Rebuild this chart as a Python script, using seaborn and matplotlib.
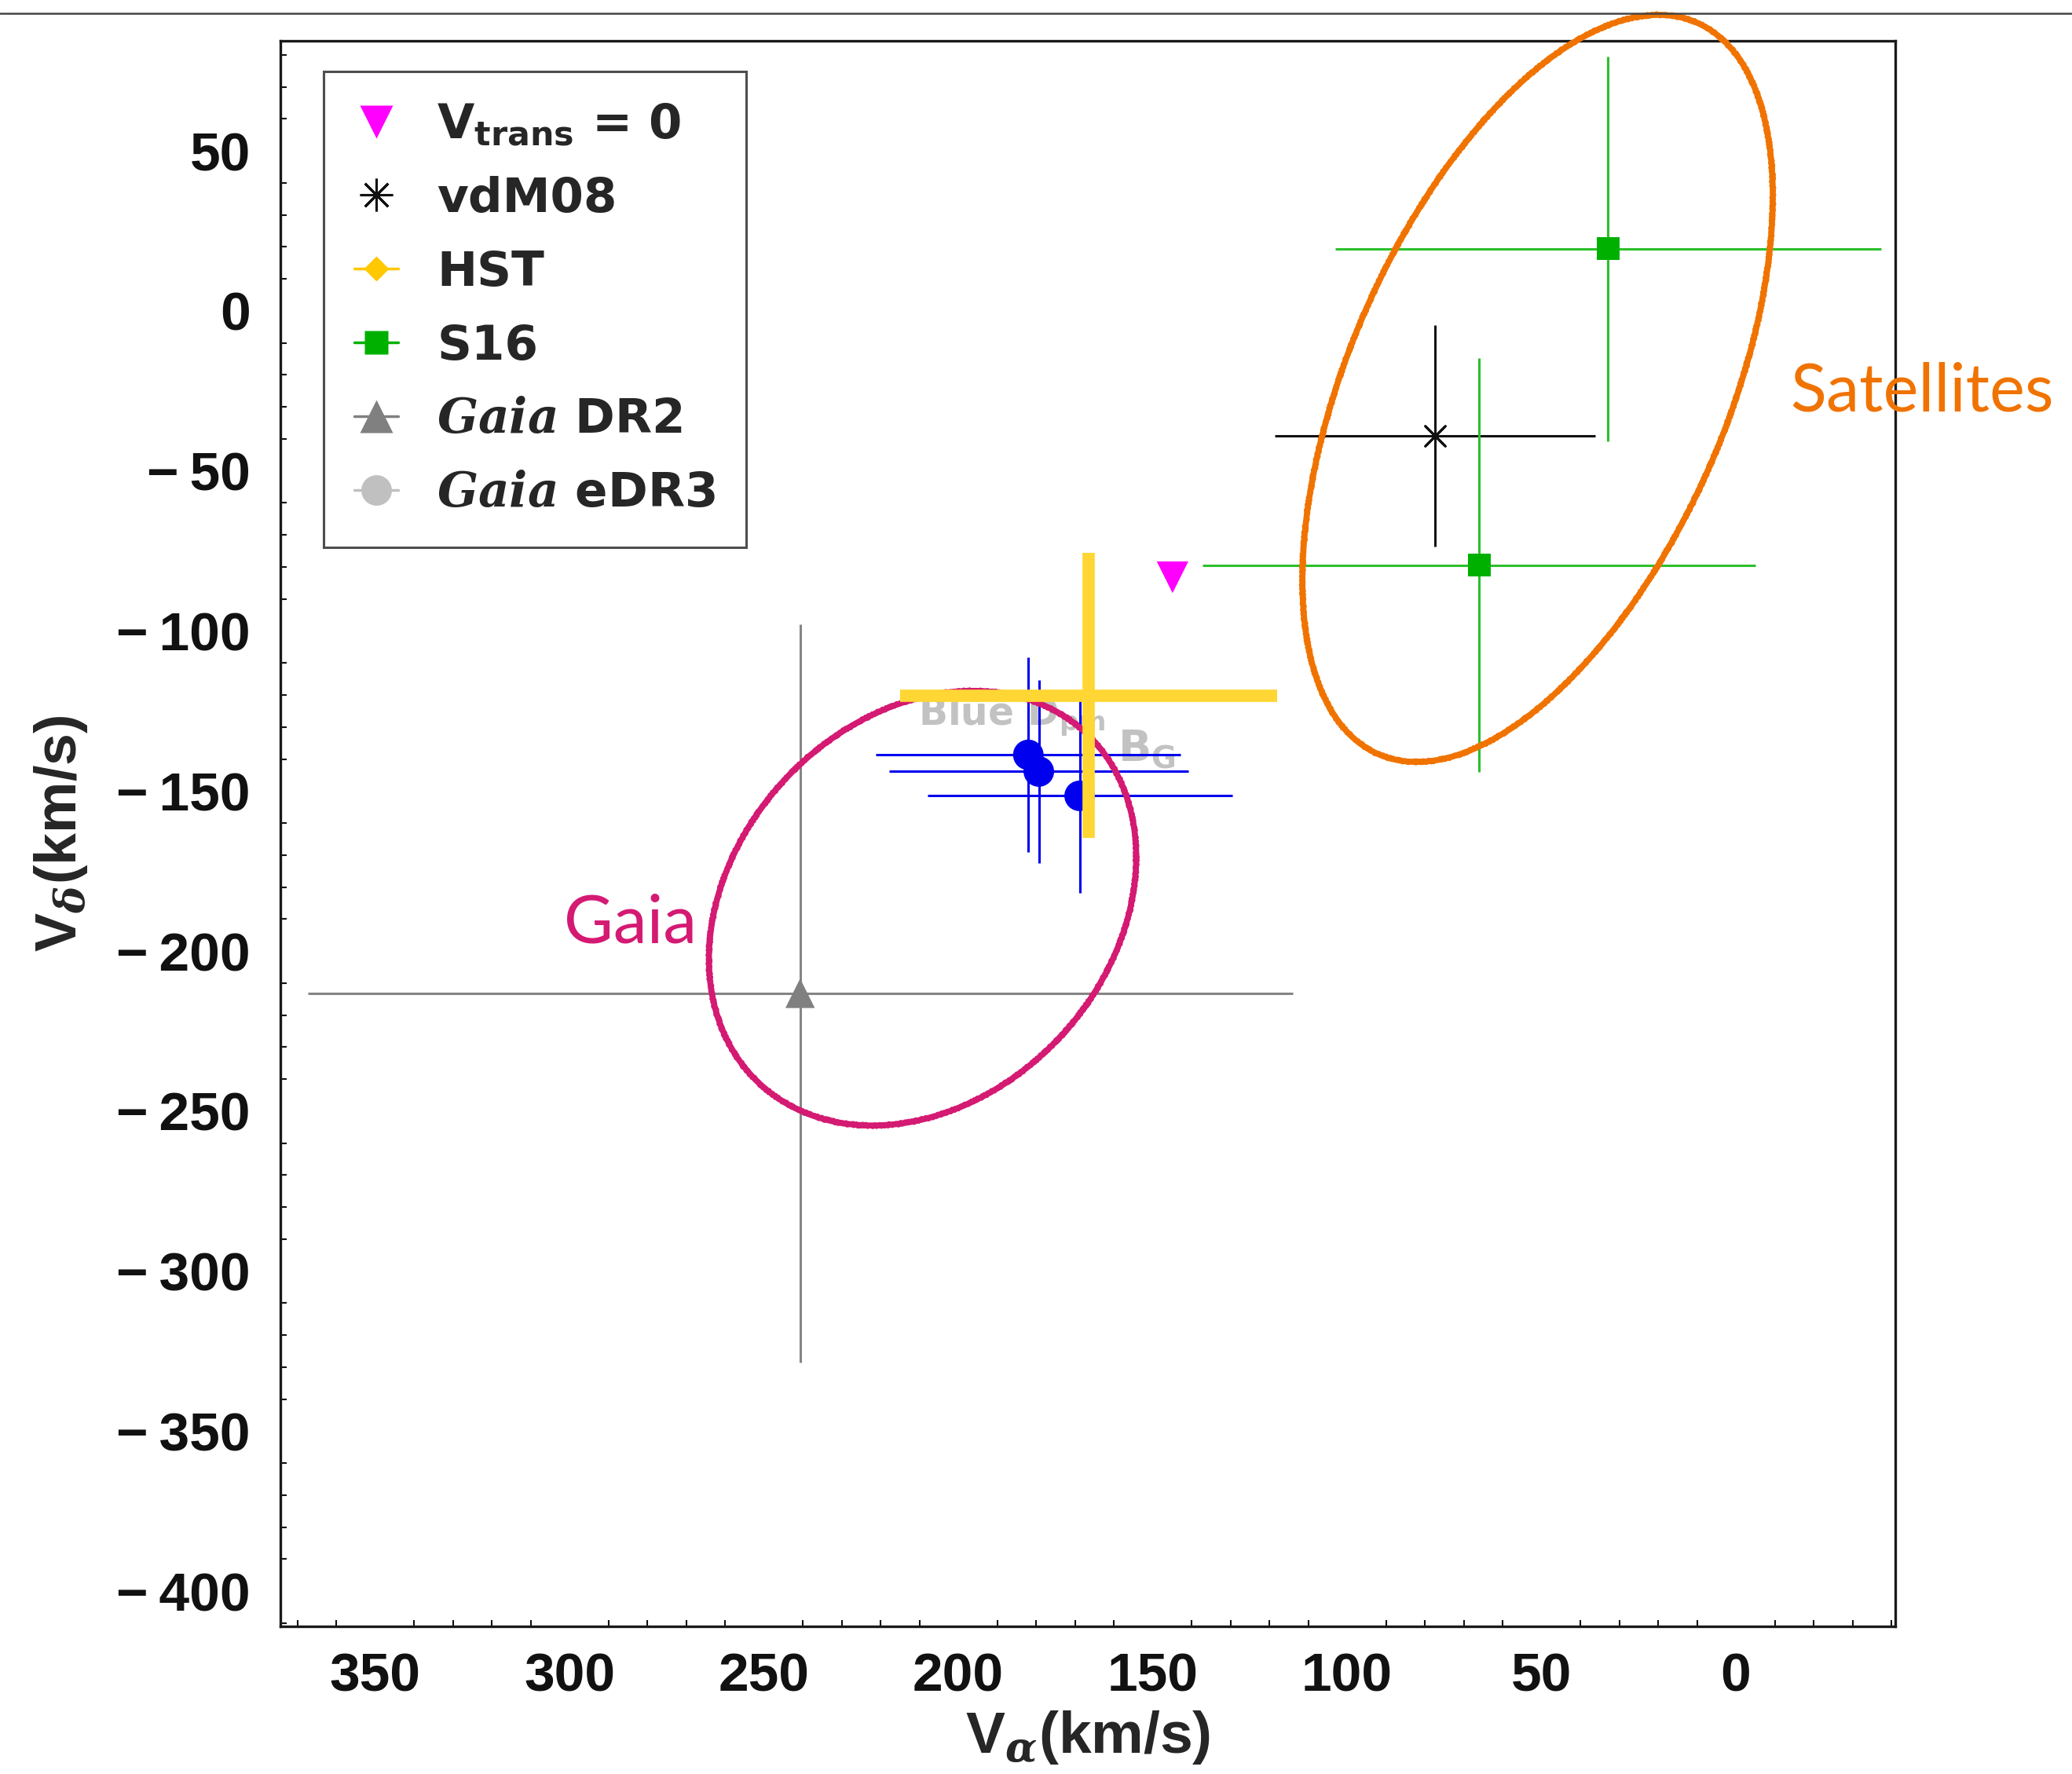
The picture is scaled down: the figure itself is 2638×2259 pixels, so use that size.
import numpy as np
import pandas as pd
import matplotlib
matplotlib.use("Agg")
import matplotlib.pyplot as plt
import seaborn as sns
from matplotlib.lines import Line2D
from matplotlib.ticker import MultipleLocator, FuncFormatter

# ---------------- data (km/s) ----------------
vtrans_x = [144.9]
vtrans_y = [-83.2]

vdm_x = [77.4]
vdm_y = [-39.1]
vdm_xerr = [41.2]
vdm_yerr = [34.6]

hst_x = [166.5]
hst_y = [-120.2]
hst_xerr = [48.5]
hst_yerr = [44.5]

s16_x = [32.9, 66.0]
s16_y = [19.4, -79.4]
s16_xerr = [70.2, 71.1]
s16_yerr = [60.2, 64.6]

dr2_x = [240.7]
dr2_y = [-213.2]
dr2_xerr = [126.7]
dr2_yerr = [115.4]

edr3_x = [182.0, 179.3, 168.8]
edr3_y = [-138.7, -143.9, -151.5]
edr3_xerr = [39.2, 38.5, 39.2]
edr3_yerr = [30.4, 28.6, 30.4]

# hand-drawn ellipses: centre, extent in x and y, correlation
gaia_ell = dict(cx=209.2, cy=-186.6, sx=54.96, sy=67.9, rho=-0.2345)
sat_ell = dict(cx=51.0, cy=-24.2, sx=60.5, sy=116.7, rho=-0.514)

xticks = [350, 300, 250, 200, 150, 100, 50, 0]
yticks = [50, 0, -50, -100, -150, -200, -250, -300, -350, -400]

# ---------------- style ----------------
sns.set_theme(style="white")
plt.rcParams.update({
    "font.family": ["Liberation Sans", "DejaVu Sans"],
    "font.weight": "bold",
    "axes.unicode_minus": True,
    "mathtext.fontset": "custom",
    "mathtext.rm": "DejaVu Sans",
    "mathtext.it": "DejaVu Serif:italic",
    "mathtext.bf": "DejaVu Sans:bold",
    "axes.edgecolor": "#222222",
})

fig = plt.figure(figsize=(26.38, 22.59), dpi=100)
ax = fig.add_axes([0.1353, 0.0832, 0.7794, 0.8938])

# ---------------- error bars ----------------
ax.errorbar(dr2_x, dr2_y, xerr=dr2_xerr, yerr=dr2_yerr, fmt="none",
            ecolor="#858585", elinewidth=2.2, capsize=0, zorder=2)
ax.errorbar(vdm_x, vdm_y, xerr=vdm_xerr, yerr=vdm_yerr, fmt="none",
            ecolor="#111111", elinewidth=2.2, capsize=0, zorder=2)
ax.errorbar(s16_x, s16_y, xerr=s16_xerr, yerr=s16_yerr, fmt="none",
            ecolor="#2CC02C", elinewidth=2.2, capsize=0, zorder=2)
ax.errorbar(edr3_x, edr3_y, xerr=edr3_xerr, yerr=edr3_yerr, fmt="none",
            ecolor="#0000EE", elinewidth=2.2, capsize=0, zorder=3)

# ---------------- markers ----------------
sns.scatterplot(x=dr2_x, y=dr2_y, marker="^", s=27**2, color="#808080",
                edgecolor="none", ax=ax, zorder=4, legend=False)
sns.scatterplot(x=s16_x, y=s16_y, marker="s", s=21**2, color="#00B000",
                edgecolor="none", ax=ax, zorder=4, legend=False)
sns.scatterplot(x=edr3_x, y=edr3_y, marker="o", s=28**2, color="#0000EE",
                edgecolor="none", ax=ax, zorder=4, legend=False)
sns.scatterplot(x=vtrans_x, y=vtrans_y, marker="v", s=29**2, color="#FF00FF",
                edgecolor="none", ax=ax, zorder=4, legend=False)
ax.scatter(vdm_x, vdm_y, marker=(8, 2, 0), s=26**2, c="#111111",
           linewidths=2.0, zorder=4)

# faint label behind
ax.text(210.4, -129.4, r"Blue D$_{\mathrm{pm}}$", family="DejaVu Sans",
        weight="bold", fontsize=35, color="#C2C2C2", zorder=1)
ax.text(159.0, -140.4, r"B$_{\mathrm{G}}$", family="DejaVu Sans",
        weight="bold", fontsize=40, color="#C2C2C2", zorder=1)

# ---------------- ellipses ----------------
t = np.linspace(0, 2 * np.pi, 800)
for ell, col in [(gaia_ell, "#D41A72"), (sat_ell, "#F07300")]:
    ex = ell["cx"] + ell["sx"] * np.cos(t)
    ey = ell["cy"] + ell["sy"] * (ell["rho"] * np.cos(t)
                                  + np.sqrt(1 - ell["rho"] ** 2) * np.sin(t))
    ax.plot(ex, ey, color=col, lw=5.5, zorder=5, clip_on=False,
            solid_capstyle="round")
    rough, = ax.plot(ex, ey, color=col, lw=3.0, zorder=5, clip_on=False)
    rough.set_sketch_params(scale=2.5, length=6, randomness=4)

# HST cross (on top)
ax.errorbar(hst_x, hst_y, xerr=hst_xerr, yerr=hst_yerr, fmt="none",
            ecolor="#FFD633", elinewidth=11.3, capsize=0, zorder=6)

ax.text(301.5, -197.3, "Gaia", family="Lato", weight="normal",
        fontsize=62, color="#D41A72")
ax.text(-13.9, -31.2, "Satellites", family="Lato", weight="normal",
        fontsize=61, color="#F07300", clip_on=False)

# ---------------- axes ----------------
ax.set_xlim(374.4, -41.0)
ax.set_ylim(-411.0, 84.4)
ax.set_xticks(xticks)
ax.set_yticks(yticks)
ax.yaxis.set_major_formatter(FuncFormatter(
    lambda v, p: ("\u2212\u2009%d" % abs(v)) if v < 0 else "%d" % v))
ax.xaxis.set_minor_locator(MultipleLocator(10))
ax.yaxis.set_minor_locator(MultipleLocator(10))
ax.tick_params(which="major", direction="inout", length=15, width=2,
               top=False, right=False, labelsize=50, colors="#111111")
ax.tick_params(axis="x", which="major", pad=16)
ax.tick_params(axis="y", which="major", pad=20)
ax.tick_params(which="minor", direction="in", length=6, width=1.5,
               top=False, right=False, bottom=True, left=True, colors="#111111")
for sp in ax.spines.values():
    sp.set_linewidth(2.4)
    sp.set_color("#1a1a1a")

ax.set_xlabel(r"V$_{\alpha}$(km/s)", fontsize=54, fontweight="bold")
ax.set_ylabel(r"V$_{\delta}$(km/s)", fontsize=53, fontweight="bold")
ax.xaxis.set_label_coords(0.5, -0.052)
ax.yaxis.set_label_coords(-0.118, 0.5)

# ---------------- legend ----------------
handles = [
    Line2D([], [], ls="none", marker="v", ms=30, color="#FF00FF", mec="none"),
    Line2D([], [], ls="none", marker=(8, 2, 0), ms=30, color="#111111", mew=2.2),
    Line2D([], [], ls="-", lw=2.5, marker="D", ms=16, color="#FFC800", mec="none"),
    Line2D([], [], ls="-", lw=2.5, marker="s", ms=22, color="#00B000", mec="none"),
    Line2D([], [], ls="-", lw=2.5, marker="^", ms=30, color="#808080", mec="none"),
    Line2D([], [], ls="-", lw=2.5, marker="o", ms=28, color="#C0C0C0", mec="none"),
]
labels = [r"V$_{\mathbf{trans}}$ = 0", "vdM08", "HST", "S16",
          r"$\mathit{Gaia}$ DR2", r"$\mathit{Gaia}$ eDR3"]
leg = ax.legend(handles, labels, loc="upper left",
                bbox_to_anchor=(0.0268, 0.9807), borderaxespad=0,
                prop=dict(family="DejaVu Sans", weight="bold", size=44),
                frameon=True, fancybox=False, edgecolor="#222222",
                handlelength=0.92, handletextpad=0.8, borderpad=0.64,
                labelspacing=0.57)
leg.get_frame().set_linewidth(2.2)
leg.set_zorder(10)

# thin rule across the top of the figure
fig.add_artist(Line2D([0, 1], [0.9925, 0.9925], transform=fig.transFigure,
                      color="#444444", lw=1.8))

fig.savefig("out.png", dpi=100)
